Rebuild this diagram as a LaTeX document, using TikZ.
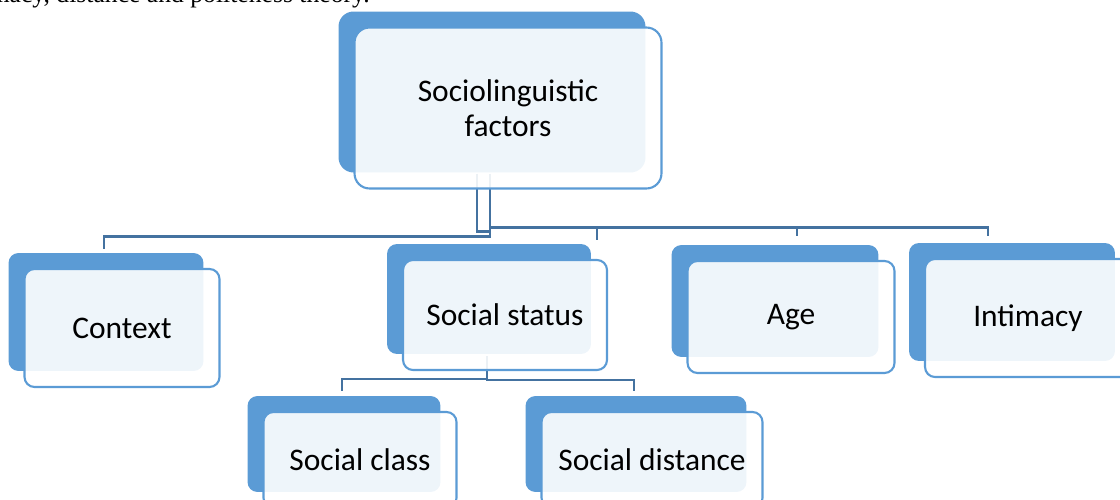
\documentclass[tikz,border=0pt]{standalone}
\usepackage{fontspec}
\setmainfont{Carlito}
\newfontfamily\bodyserif{Liberation Serif}
\usepackage{tikz}
\usetikzlibrary{calc, shadows}
\definecolor{SmartBlue}{RGB}{91,155,213}
\definecolor{LinkBlue}{RGB}{68,114,160}
\pgfdeclarelayer{background}
\pgfsetlayers{background,main}

\begin{document}
\begin{tikzpicture}[x=0.02cm, y=-0.02cm,
    factor/.style={draw=SmartBlue, line width=1.2pt, fill=white, fill opacity=0.9, text opacity=1,
        rounded corners=0.2cm, inner sep=0pt, align=center,
        font=\fontsize{17.9}{19.8}\selectfont,
        copy shadow={shadow xshift=-0.32cm, shadow yshift=0.32cm, fill=SmartBlue, fill opacity=1, draw=none}},
    link/.style={draw=LinkBlue, line width=1.3pt}]
    \useasboundingbox (0,0) rectangle (1120,500);
    \clip (0,0) rectangle (1120,500);

    % Running text above the chart
    \node[anchor=base east, inner sep=0pt, font=\bodyserif\fontsize{14.6}{16}\selectfont] (lead) at (370,2.5) {intimacy, distance and politeness theory.};

    % Root
    \node[factor, minimum width=6.14cm, minimum height=3.22cm, rounded corners=0.3cm] (root) at (508,108) {Sociolinguistic\\factors};

    % First level
    \node[factor, minimum width=3.9cm, minimum height=2.36cm] (ctx) at (122,328) {Context};
    \node[factor, minimum width=4.08cm, minimum height=2.2cm] (stat) at (505,315) {Social status};
    \node[factor, minimum width=4.14cm, minimum height=2.24cm] (age) at (791,317) {Age};
    \node[factor, minimum width=4.12cm, minimum height=2.36cm] (int) at (1028,318) {Intimacy};

    % Second level
    \node[factor, minimum width=3.86cm, minimum height=1.92cm] (cls) at (360,460) {Social class};
    \node[factor, minimum width=4.42cm, minimum height=1.92cm] (dist) at (652,460) {Social distance};

    % Connectors
    \begin{pgfonlayer}{background}
        \coordinate (hub) at ($(root.south)+(-18,38)$);
        \draw[link] ($(root.south)+(-18,-16)$) -- ++(0,63) -| ($(ctx.north)+(-18,-19)$);
        \draw[link] ($(root.south)+(-31,-16)$) |- ($(root.south)+(-18,42)$);
        \draw[link] (hub) -| ($(stat.north)+(92,-19)$);
        \draw[link] (hub) -| ($(age.north)+(6,-24)$);
        \draw[link] (hub) -| ($(int.north)+(-40,-22)$);
        \draw[link] ($(stat.south)+(-18,-15)$) -- ++(0,23) -| ($(cls.north)+(-18,-20)$);
        \draw[link] ($(stat.south)+(-18,-15)$) -- ++(0,24) -| ($(dist.north)+(-18,-20)$);
    \end{pgfonlayer}
\end{tikzpicture}
\end{document}
